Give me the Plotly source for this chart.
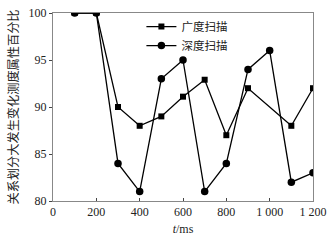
import plotly.graph_objects as go

breadth_x = [100, 200, 300, 400, 500, 600, 700, 800, 900, 1100, 1200]
breadth_y = [100, 100, 90, 88, 89, 91.1, 92.9, 87, 92, 88, 92]
depth_x = [100, 200, 300, 400, 500, 600, 700, 800, 900, 1000, 1100, 1200]
depth_y = [100, 100, 84, 81, 93, 95, 81, 84, 94, 96, 82, 83]
x_ticks = [0, 200, 400, 600, 800, 1000, 1200]
x_ticklabels = ["0", "200", "400", "600", "800", "1 000", "1 200"]
y_ticks = [80, 85, 90, 95, 100]

serif = "Liberation Serif, Times New Roman, serif"
cjk = "Noto Sans CJK SC"

fig = go.Figure()
fig.add_trace(go.Scatter(x=breadth_x, y=breadth_y, mode="lines+markers", name="广度扫描",
                         line=dict(color="black", width=1.3),
                         marker=dict(symbol="square", size=6, color="black")))
fig.add_trace(go.Scatter(x=depth_x, y=depth_y, mode="lines+markers", name="深度扫描",
                         line=dict(color="black", width=1.3),
                         marker=dict(symbol="circle", size=7.5, color="black")))

fig.update_layout(
    width=332, height=241,
    margin=dict(l=53, r=19, t=13, b=40),
    paper_bgcolor="white", plot_bgcolor="white",
    showlegend=True,
    legend=dict(x=0.34, y=1.005, xanchor="left", yanchor="top",
                bgcolor="rgba(0,0,0,0)", font=dict(family=cjk, size=11.5, color="#222"),
                tracegroupgap=0, itemwidth=30),
    xaxis=dict(range=[0, 1200], tickvals=x_ticks, ticktext=x_ticklabels, automargin=False,
               showgrid=False, zeroline=False, showline=True, linecolor="#888", mirror=True,
               ticks="inside", ticklen=3, tickcolor="#444",
               tickfont=dict(family=serif, size=12, color="#222"),
               title=dict(text="<i>t</i>/ms", font=dict(family=serif, size=12, color="#222"), standoff=6)),
    yaxis=dict(range=[80, 100], tickvals=y_ticks, automargin=False,
               showgrid=False, zeroline=False, showline=True, linecolor="#888", mirror=True,
               ticks="outside", ticklen=3, tickcolor="#444",
               tickfont=dict(family=serif, size=12, color="#222")),
    annotations=[dict(text="关系划分大发生变化测度属性百分比", xref="paper", yref="paper",
                      x=-0.152, y=0.5, xanchor="center", yanchor="middle", textangle=-90,
                      showarrow=False, font=dict(family=cjk, size=12.2, color="#222"))],
)

fig.write_html("out.html", config={"displayModeBar": False},
               post_script="document.body.style.margin='0';")
